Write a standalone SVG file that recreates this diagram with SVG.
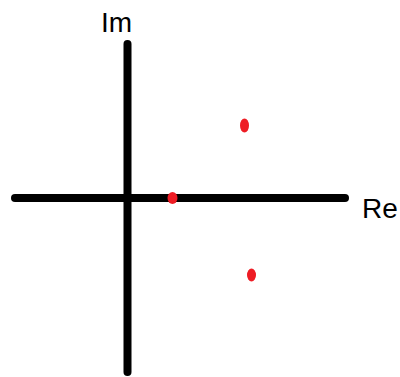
<svg xmlns="http://www.w3.org/2000/svg" width="400" height="377" viewBox="0 0 400 377">
<style>
.axis{stroke:#000;stroke-width:8;stroke-linecap:round;fill:none}
.pt{fill:#ee1c24}
.lbl{font-family:"Liberation Sans",Arial,sans-serif;font-size:28px;fill:#000}
</style>
<rect width="400" height="377" fill="#fff"/>
<g id="connectors">
<line class="axis" x1="127.5" y1="44" x2="127.5" y2="372"/>
<line class="axis" x1="15" y1="198" x2="345" y2="198"/>
</g>
<g id="label-im"><text class="lbl" x="101" y="32">Im</text></g>
<g id="label-re"><text class="lbl" x="362" y="218">Re</text></g>
<g id="pole1"><ellipse class="pt" cx="244.5" cy="125.5" rx="4.5" ry="7"/></g>
<g id="pole2"><ellipse class="pt" cx="172.5" cy="198" rx="5" ry="6"/></g>
<g id="pole3"><ellipse class="pt" cx="251.5" cy="275" rx="4.5" ry="6.5"/></g>
</svg>
